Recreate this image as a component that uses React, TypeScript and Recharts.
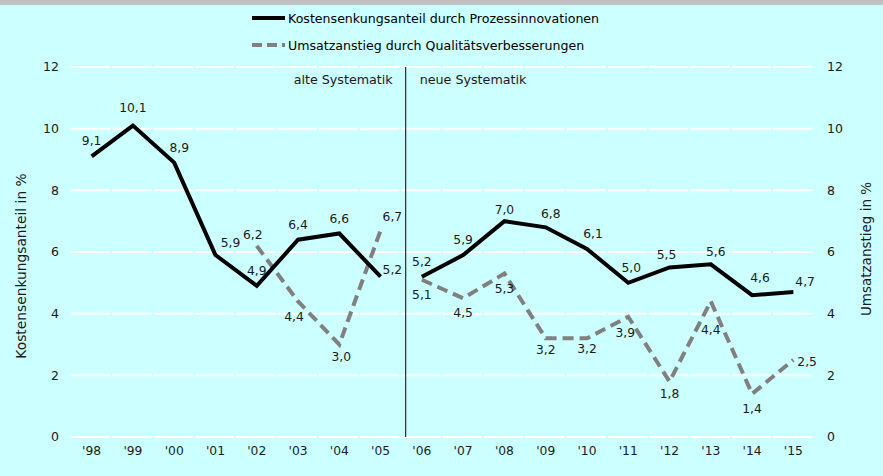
import { CartesianGrid, LabelList, Line, LineChart, ReferenceLine, XAxis, YAxis } from 'recharts'

const jahre = ["'98", "'99", "'00", "'01", "'02", "'03", "'04", "'05", "'06", "'07", "'08", "'09", "'10", "'11", "'12", "'13", "'14", "'15"]
// Kostensenkungsanteil durch Prozessinnovationen (linke Achse)
const kosten = [9.1, 10.1, 8.9, 5.9, 4.9, 6.4, 6.6, 5.2, 5.2, 5.9, 7.0, 6.8, 6.1, 5.0, 5.5, 5.6, 4.6, 4.7]
// Umsatzanstieg durch Qualitätsverbesserungen (rechte Achse)
const umsatz = [null, null, null, null, 6.2, 4.4, 3.0, 6.7, 5.1, 4.5, 5.3, 3.2, 3.2, 3.9, 1.8, 4.4, 1.4, 2.5]
const achsenTicks = [0, 2, 4, 6, 8, 10, 12]
const ersteNeueJahr = "'06"

const FONT = '"DejaVu Sans", Verdana, sans-serif'
const BG = '#CCFFFF'
const GRAU = '#808080'
// the break line sits a little right of the band boundary in the original
const BRUCH_VERSATZ = 4.5

const splitIndex = jahre.indexOf(ersteNeueJahr)
const data = jahre.map((jahr, i) => ({
  jahr,
  kostenAlt: i < splitIndex ? kosten[i] : null,
  kostenNeu: i >= splitIndex ? kosten[i] : null,
  umsatzAlt: i < splitIndex ? umsatz[i] : null,
  umsatzNeu: i >= splitIndex ? umsatz[i] : null,
}))

type LabelPos = { dx?: number; dy?: number; anchor?: 'start' | 'middle' | 'end' }

// label placement tweaks, keyed by year
const KOSTEN_POS: Record<string, LabelPos> = {
  "'99": { dy: -18 },
  "'00": { dx: 5 },
  "'01": { dx: 15, dy: -12 },
  "'05": { dx: 2, dy: -7, anchor: 'start' },
  "'08": { dy: -11 },
  "'09": { dx: 5, dy: -13 },
  "'10": { dx: 6 },
  "'11": { dx: 3 },
  "'12": { dx: -3, dy: -12 },
  "'13": { dx: 5, dy: -12 },
  "'14": { dx: 8, dy: -17 },
  "'15": { dx: 2, dy: -10, anchor: 'start' },
}

const UMSATZ_POS: Record<string, LabelPos> = {
  "'02": { dx: -4, dy: -11 },
  "'03": { dx: -4, dy: 16 },
  "'04": { dx: 2, dy: 12 },
  "'05": { dx: 2, dy: -13, anchor: 'start' },
  "'09": { dy: 12 },
  "'10": { dy: 11 },
  "'11": { dx: -3, dy: 16 },
  "'12": { dy: 12 },
  "'13": { dy: 29 },
  "'15": { dx: 4, dy: 2, anchor: 'start' },
}

const fmt = (v: number) => v.toFixed(1).replace('.', ',')

function makeLabel(defaultDy: number, table: Record<string, LabelPos>) {
  return (props: any) => {
    const { x, y, value, index } = props
    if (value === null || value === undefined || y === null || y === undefined) return null
    const pos = table[jahre[index]] ?? {}
    return (
      <text
        x={Number(x) + (pos.dx ?? 0)}
        y={Number(y) + (pos.dy ?? defaultDy)}
        dominantBaseline="central"
        textAnchor={pos.anchor ?? 'middle'}
        fill="#1a1a1a"
        fontFamily={FONT}
        fontSize={12.3}
      >
        {fmt(Number(value))}
      </text>
    )
  }
}

function SystematikLabel(props: any) {
  const { viewBox } = props
  if (!viewBox) return null
  const x = viewBox.x + BRUCH_VERSATZ
  const y = viewBox.y + 12
  return (
    <g fontFamily={FONT} fontSize={12.7} fill="#1a1a1a">
      <text x={x - 13} y={y} textAnchor="end" dominantBaseline="central">
        alte Systematik
      </text>
      <text x={x + 14} y={y} textAnchor="start" dominantBaseline="central">
        neue Systematik
      </text>
    </g>
  )
}

function BruchLinie(props: any) {
  const { x1, x2, y1, y2 } = props
  return <line x1={x1 + BRUCH_VERSATZ} x2={x2 + BRUCH_VERSATZ} y1={y1} y2={y2} stroke="#000" strokeWidth={1} />
}

function ChartLegend() {
  const rowStyle = { position: 'absolute' as const, left: 252, display: 'flex', alignItems: 'center', height: 16 }
  const textStyle = { fontFamily: FONT, fontSize: 12.6, color: '#000', marginLeft: 3 }
  return (
    <>
      <div style={{ ...rowStyle, top: 10 }}>
        <svg width={33} height={8}>
          <line x1={0} x2={33} y1={4} y2={4} stroke="#000" strokeWidth={4} />
        </svg>
        <span style={textStyle}>Kostensenkungsanteil durch Prozessinnovationen</span>
      </div>
      <div style={{ ...rowStyle, top: 37 }}>
        <svg width={33} height={8}>
          <line x1={0} x2={33} y1={4} y2={4} stroke={GRAU} strokeWidth={4} strokeDasharray="10 5" />
        </svg>
        <span style={textStyle}>Umsatzanstieg durch Qualitätsverbesserungen</span>
      </div>
    </>
  )
}

export default function App() {
  return (
    <div style={{ position: 'absolute', left: 0, top: 0, width: 883, height: 476, background: BG, overflow: 'hidden' }}>
      <div style={{ height: 5, background: '#C0C0C0' }} />
      <ChartLegend />
      <LineChart width={883} height={471} data={data} margin={{ top: 62, right: 0, bottom: 9, left: 0 }}>
        <CartesianGrid
          yAxisId="left"
          vertical={false}
          stroke="#FFFFFF"
          strokeWidth={2}
          strokeDasharray="39.3 2"
        />
        <XAxis
          dataKey="jahr"
          scale="band"
          interval={0}
          axisLine={false}
          tickLine={false}
          tickSize={0}
          tickMargin={9}
          height={30}
          tick={{ fill: '#1a1a1a', fontSize: 12.3, fontFamily: FONT }}
        />
        <YAxis
          yAxisId="left"
          domain={[0, 12]}
          ticks={achsenTicks}
          width={71}
          axisLine={false}
          tickLine={false}
          tickSize={0}
          tickMargin={12}
          tick={{ fill: '#1a1a1a', fontSize: 12.5, fontFamily: FONT }}
          label={{
            value: 'Kostensenkungsanteil in %',
            angle: -90,
            position: 'center',
            dx: -14,
            dy: 14,
            style: { fill: '#1a1a1a', fontSize: 13.8, fontFamily: FONT },
          }}
        />
        <YAxis
          yAxisId="right"
          orientation="right"
          domain={[0, 12]}
          ticks={achsenTicks}
          width={69}
          axisLine={false}
          tickLine={false}
          tickSize={0}
          tickMargin={13}
          tick={{ fill: '#1a1a1a', fontSize: 12.5, fontFamily: FONT }}
          label={{
            value: 'Umsatzanstieg in %',
            angle: -90,
            position: 'center',
            dx: 18,
            dy: -3,
            style: { fill: '#1a1a1a', fontSize: 13.5, fontFamily: FONT },
          }}
        />
        <ReferenceLine
          yAxisId="left"
          x="'05"
          position="end"
          stroke="#000"
          strokeWidth={1}
          shape={BruchLinie}
          label={<SystematikLabel />}
        />
        <Line yAxisId="right" dataKey="umsatzAlt" stroke={GRAU} strokeWidth={4} strokeDasharray="11 6" dot={false} isAnimationActive={false} legendType="none">
          <LabelList dataKey="umsatzAlt" content={makeLabel(15, UMSATZ_POS)} />
        </Line>
        <Line yAxisId="right" dataKey="umsatzNeu" stroke={GRAU} strokeWidth={4} strokeDasharray="11 6" dot={false} isAnimationActive={false} legendType="none">
          <LabelList dataKey="umsatzNeu" content={makeLabel(15, UMSATZ_POS)} />
        </Line>
        <Line yAxisId="left" dataKey="kostenAlt" stroke="#000" strokeWidth={4} dot={false} isAnimationActive={false} legendType="none">
          <LabelList dataKey="kostenAlt" content={makeLabel(-15, KOSTEN_POS)} />
        </Line>
        <Line yAxisId="left" dataKey="kostenNeu" stroke="#000" strokeWidth={4} dot={false} isAnimationActive={false} legendType="none">
          <LabelList dataKey="kostenNeu" content={makeLabel(-15, KOSTEN_POS)} />
        </Line>
      </LineChart>
    </div>
  )
}
